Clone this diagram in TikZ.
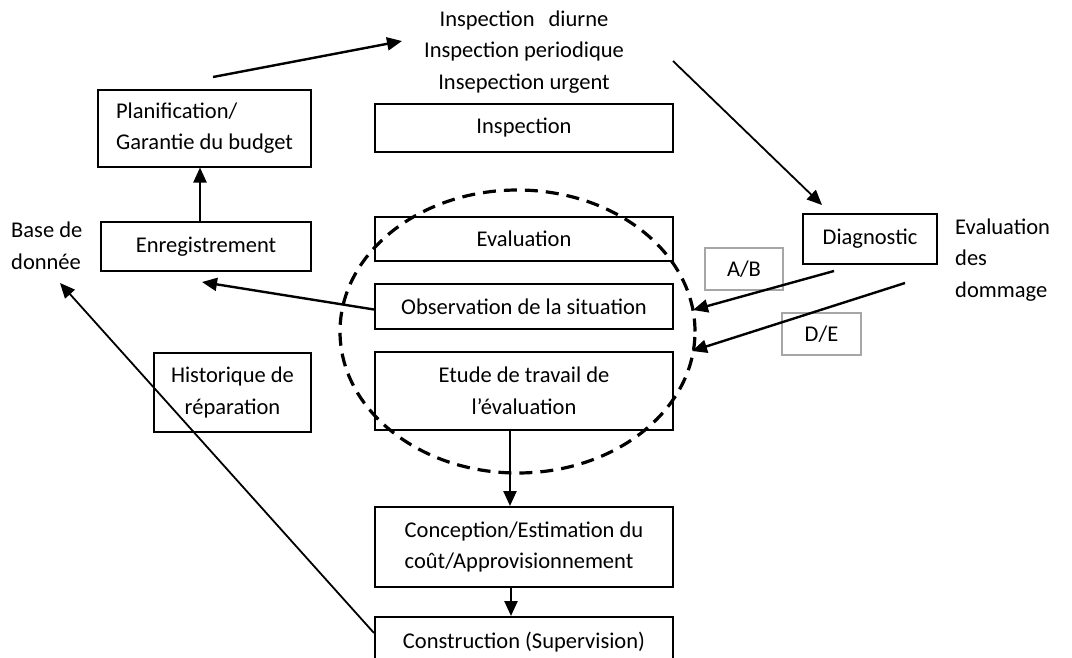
\documentclass[tikz,border=0pt]{standalone}
\usepackage{fontspec}
\setmainfont{Carlito}
\usetikzlibrary{arrows.meta}
\begin{document}
\begin{tikzpicture}[x=1pt,y=-1pt,
  txt/.style={font=\fontsize{22.5}{31.5}\selectfont, inner sep=0pt},
  box/.style={txt, draw, line width=2pt, rectangle, align=center},
  gbox/.style={txt, draw=black!35, line width=2pt, rectangle, align=center},
  arr/.style={-{Triangle[length=15pt,width=13pt]}, line width=2.4pt},
  tarr/.style={-{Triangle[length=15pt,width=13pt]}, line width=1.8pt},
  circ/.style={line width=3.2pt, dash pattern=on 13pt off 8pt}]
\useasboundingbox (0,0) rectangle (1072,657);
\clip (0,0) rectangle (1072,657);

% boxes
\node[box, align=left, minimum width=213pt, minimum height=77pt] (plan) at (204.5,128) {Planification/\\Garantie du budget};
\node[box, minimum width=210pt, minimum height=49pt] (enreg) at (206,246.5) {Enregistrement};
\node[box, minimum width=298pt, minimum height=48pt] (insp) at (524,128) {Inspection};
\node[box, minimum width=298pt, minimum height=44pt] (eval) at (524,239) {Evaluation};
\node[box, minimum width=298pt, minimum height=45pt] (obs) at (524,306.5) {Observation de la situation};
\node[box, minimum width=298pt, minimum height=78pt] (etude) at (524,391) {Etude de travail de\\l’évaluation};
\node[box, align=left, minimum width=298pt, minimum height=80pt] (conc) at (524,547) {Conception/Estimation du\\coût/Approvisionnement};
\node[box, minimum width=298pt, minimum height=50pt] (constr) at (524,642) {Construction (Supervision)};
\node[box, minimum width=157pt, minimum height=79pt] (hist) at (232.5,392.5) {Historique de\\réparation};
\node[box, minimum width=134pt, minimum height=50pt] (diag) at (870,239) {Diagnostic};
\node[gbox, minimum width=78pt, minimum height=42pt] (ab) at (744,269) {A/B};
\node[gbox, minimum width=79pt, minimum height=42pt] (de) at (821.5,334) {D/E};

% free labels
\node[txt, align=center] (types) at (524,52) {Inspection\hspace{14pt}diurne\\Inspection periodique\\Insepection urgent};
\node[txt, align=left, anchor=west] (base) at (11,246) {Base de\\donnée};
\node[txt, align=left, anchor=west] (evdom) at (955,260) {Evaluation\\des\\dommage};

% dashed ellipse
\draw[circ] (517.5,331.5) ellipse [x radius=177.5pt, y radius=141.5pt];

% connectors
\coordinate (p1) at (213,77);
\coordinate (p2) at (402,41);
\draw[arr] (p1) -- (p2);
\coordinate (q1) at (673,61);
\coordinate (q2) at (822,205);
\draw[tarr] (q1) -- (q2);
\draw[arr] ([xshift=-6pt]enreg.north) -- ([xshift=-4.5pt]plan.south);
\coordinate (enregtip) at (202,282);
\draw[arr] ([yshift=-3pt]obs.west) -- (enregtip);
\coordinate (ab1) at (834,271);
\coordinate (ab2) at (693,310);
\draw[arr] (ab1) -- (ab2);
\coordinate (de1) at (905,283);
\coordinate (de2) at (692,351);
\draw[arr] (de1) -- (de2);
\draw[arr] ([xshift=-14pt]etude.south) -- ([xshift=-14pt]conc.north);
\draw[arr] ([xshift=-13pt]conc.south) -- ([xshift=-13pt]constr.north);
\coordinate (dbtip) at (60,283);
\draw[tarr] ([yshift=9pt]constr.west) -- (dbtip);
\end{tikzpicture}
\end{document}
